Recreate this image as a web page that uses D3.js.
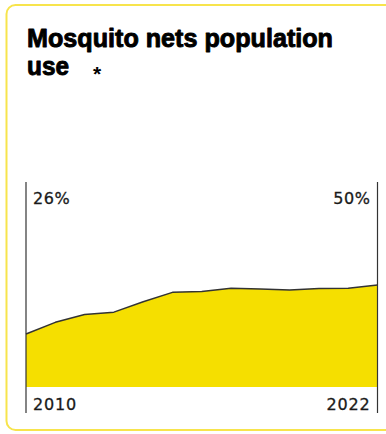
<!DOCTYPE html>
<html>
<head>
<meta charset="utf-8">
<script src="https://cdn.jsdelivr.net/npm/d3@7/dist/d3.min.js"></script>
<style>
  html, body { margin: 0; padding: 0; background: #fff; }
  svg { display: block; }
</style>
</head>
<body>
<script>
// Share of population sleeping under mosquito nets (%)
const years = [2010, 2011, 2012, 2013, 2014, 2015, 2016, 2017, 2018, 2019, 2020, 2021, 2022];
const netUse = [26, 31.7, 35.5, 36.7, 41.8, 46.4, 46.8, 48.4, 48.1, 47.6, 48.3, 48.4, 50];
const titleLines = ["Mosquito nets population", "use"];
const endLabels = ["26%", "50%"];
const yearLabels = ["2010", "2022"];

const W = 386, H = 434;
const svg = d3.select("body").append("svg").attr("width", W).attr("height", H);

// card frame
svg.append("rect")
  .attr("x", 6.5).attr("y", 5)
  .attr("width", 400).attr("height", 425)
  .attr("rx", 9)
  .attr("fill", "#fff")
  .attr("stroke", "#f7e44c")
  .attr("stroke-width", 2);

// title (heavy weight: bold glyphs with a thin matching outline)
const title = svg.append("text")
  .attr("font-family", "'Liberation Sans', Arial, sans-serif")
  .attr("font-weight", 700)
  .attr("font-size", 25)
  .attr("fill", "#000")
  .attr("stroke", "#000")
  .attr("stroke-width", 0.9)
  .attr("stroke-linejoin", "round");
title.append("tspan").attr("x", 27).attr("y", 47).text(titleLines[0])
  .attr("textLength", 306).attr("lengthAdjust", "spacingAndGlyphs");
title.append("tspan").attr("x", 27).attr("y", 75).text(titleLines[1])
  .attr("textLength", 42).attr("lengthAdjust", "spacingAndGlyphs");
svg.append("text")
  .attr("x", 93).attr("y", 81)
  .attr("font-family", "'Liberation Sans', Arial, sans-serif")
  .attr("font-weight", 700)
  .attr("font-size", 21)
  .attr("fill", "#000")
  .text("*");

// scales
const x = d3.scaleLinear().domain([years[0], years[years.length - 1]]).range([26, 377.5]);
const y = d3.scaleLinear().domain([0, 100]).range([387, 183]);

const data = years.map((yr, i) => ({ year: yr, value: netUse[i] }));

// filled area
svg.append("path")
  .datum(data)
  .attr("fill", "#f5df00")
  .attr("d", d3.area().x(d => x(d.year)).y0(y(0)).y1(d => y(d.value)));

// top outline
svg.append("path")
  .datum(data)
  .attr("fill", "none")
  .attr("stroke", "#333")
  .attr("stroke-width", 1.5)
  .attr("stroke-linejoin", "round")
  .attr("d", d3.line().x(d => x(d.year)).y(d => y(d.value)));

// start / end rules
[years[0], years[years.length - 1]].forEach(yr => {
  svg.append("line")
    .attr("x1", x(yr)).attr("x2", x(yr))
    .attr("y1", 182).attr("y2", 413)
    .attr("stroke", "#333")
    .attr("stroke-width", 1.2);
});

const labelFont = "'DejaVu Sans', Verdana, sans-serif";

function label(text, xPos, yPos, anchor, spacing) {
  svg.append("text")
    .attr("x", xPos).attr("y", yPos)
    .attr("text-anchor", anchor)
    .attr("font-family", labelFont).attr("font-size", 16)
    .attr("letter-spacing", spacing)
    .attr("fill", "#1a1a1a")
    .attr("stroke", "#1a1a1a")
    .attr("stroke-width", 0.3)
    .text(text);
}

// value labels
label(endLabels[0], x(years[0]) + 7, 204, "start", 0.6);
label(endLabels[1], x(years[years.length - 1]) - 7, 204, "end", 0.6);

// year labels
label(yearLabels[0], x(years[0]) + 7, 410, "start", 0.8);
label(yearLabels[1], x(years[years.length - 1]) - 7, 410, "end", 0.8);
</script>
</body>
</html>
